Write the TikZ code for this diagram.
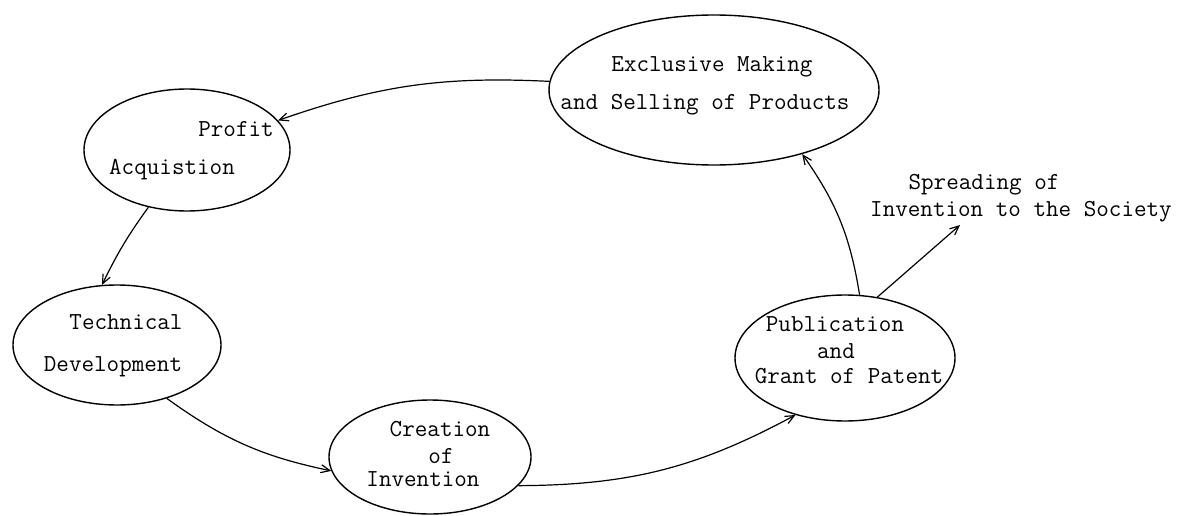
\documentclass[tikz,border=0pt]{standalone}
\usetikzlibrary{shapes.geometric,arrows.meta}
\begin{document}
\begin{tikzpicture}[x=1pt,y=-1pt,
  stage/.style={ellipse, draw, line width=1.4pt, inner sep=0pt},
  lbl/.style={font=\ttfamily\fontsize{24.4}{28}\selectfont, inner sep=0pt, anchor=base},
  flow/.style={line width=1.2pt, -{Straight Barb[length=9pt,width=8pt]}}]
\useasboundingbox (0,0) rectangle (1180,516);

% stages of the patent cycle
\node[stage, minimum width=330pt, minimum height=150pt] (excl)   at (714,90)  {};
\node[stage, minimum width=206pt, minimum height=122pt] (profit) at (187,150) {};
\node[stage, minimum width=208pt, minimum height=120pt] (tech)   at (117,345) {};
\node[stage, minimum width=202pt, minimum height=114pt] (creat)  at (430,457) {};
\node[stage, minimum width=220pt, minimum height=126pt] (pub)    at (845,358) {};

% labels, one line each
\node[lbl] (exclA)  at (712,72)  {Exclusive Making};
\node[lbl] (exclB)  at (705,110) {and Selling of Products};
\node[lbl] (profA)  at (236,136) {Profit};
\node[lbl] (profB)  at (172,174) {Acquistion};
\node[lbl] (techA)  at (126,329) {Technical};
\node[lbl] (techB)  at (113,371) {Development};
\node[lbl] (creaA)  at (440,436) {Creation};
\node[lbl] (creaB)  at (441,463) {of};
\node[lbl] (creaC)  at (423,486) {Invention};
\node[lbl] (pubA)   at (835,331) {Publication};
\node[lbl] (pubB)   at (836,358) {and};
\node[lbl] (pubC)   at (849,383) {Grant of Patent};
\node[lbl] (sprA)   at (984,189) {Spreading of};
\node[lbl] (sprB)   at (1021,216) {Invention to the Society};

% cycle connectors
\draw[flow] (excl.177)  to[bend right=11] (profit.18);
\draw[flow] (profit.236) to[bend right=5] (tech.104);
\draw[flow] (tech.-47)  to[bend right=12] (creat.188);
\draw[flow] (creat.-18) to[bend right=14] (pub.229);
\draw[flow] (pub.77)    to[bend right=13] (excl.-36);

% spreading to society
\coordinate (spread) at (960,225);
\draw[flow] (pub.62) -- (spread);
\end{tikzpicture}
\end{document}
